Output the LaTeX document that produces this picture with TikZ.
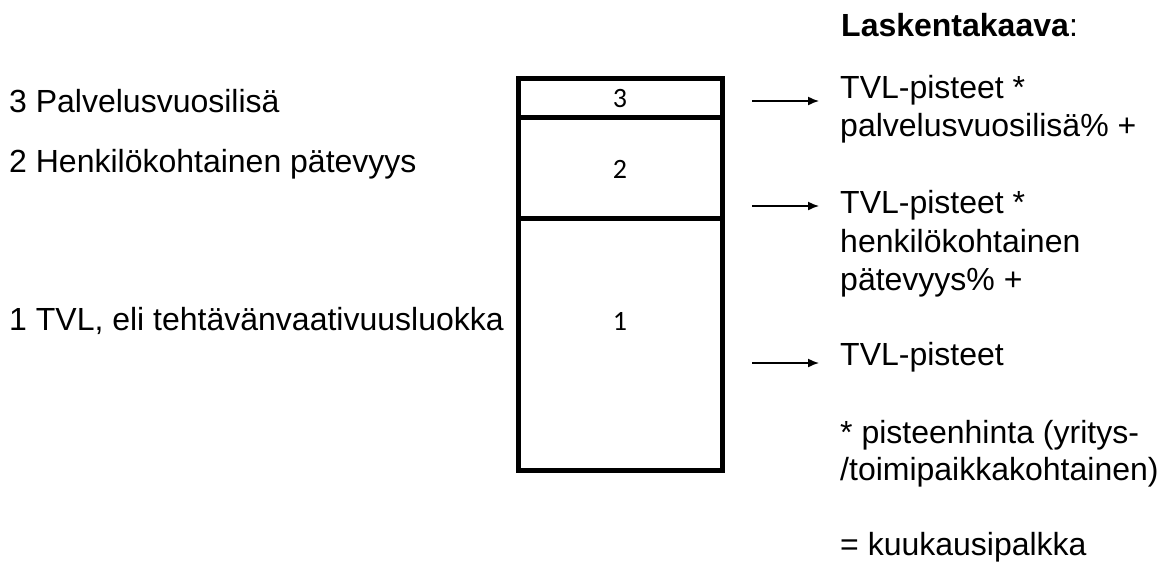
\documentclass[tikz,border=0pt]{standalone}
\usepackage{fontspec}
\setmainfont{Liberation Sans}
\newfontfamily\calib{Carlito}
\usetikzlibrary{arrows.meta}
\tikzset{
  txt/.style={anchor=base west, inner sep=0pt, font=\fontsize{32}{38}\selectfont},
  head/.style={anchor=base west, inner sep=0pt, font=\fontsize{32}{38}\selectfont},
  digit/.style={inner sep=0pt, font=\calib\fontsize{28}{33}\selectfont},
  boxline/.style={line width=5pt},
  arr/.style={line width=1.5pt, -{Latex[length=11pt,width=9pt]}}
}
\begin{document}
\begin{tikzpicture}[x=1pt,y=-1pt]
\useasboundingbox (0,0) rectangle (1169,566);
% stacked box
\draw[boxline] (518,78) rectangle (722,470);
\draw[boxline] (518,117) -- (722,117);
\draw[boxline] (518,218) -- (722,218);
\node[digit] (d3) at (620,99) {3};
\node[digit] (d2) at (620,169) {2};
\node[digit] (d1) at (620,321) {1};
% left labels
\node[txt] (l3) at (9,112) {3 Palvelusvuosilisä};
\node[txt] (l2) at (9,172) {2 Henkilökohtainen pätevyys};
\node[txt] (l1) at (9,330) {1 TVL, eli tehtävänvaativuusluokka};
% right formula
\node[head] (h) at (841,36) {\textbf{Laskentakaava}:};
\node[txt] (r3a) at (840,98) {TVL-pisteet *};
\node[txt] (r3b) at (840,136) {palvelusvuosilisä\% +};
\node[txt] (r2a) at (840,213) {TVL-pisteet *};
\node[txt] (r2b) at (840,252) {henkilökohtainen};
\node[txt] (r2c) at (840,290) {pätevyys\% +};
\node[txt] (r1a) at (840,365) {TVL-pisteet};
\node[txt] (pa) at (840,443) {* pisteenhinta (yritys-};
\node[txt] (pb) at (840,480) {/toimipaikkakohtainen)};
\node[txt] (res) at (840,555) {= kuukausipalkka};
% arrows
\coordinate (s3) at (752,101); \coordinate (e3) at (819,101);
\coordinate (s2) at (752,206); \coordinate (e2) at (819,206);
\coordinate (s1) at (752,363); \coordinate (e1) at (819,363);
\draw[arr] (s3) -- (e3);
\draw[arr] (s2) -- (e2);
\draw[arr] (s1) -- (e1);
\end{tikzpicture}
\end{document}
